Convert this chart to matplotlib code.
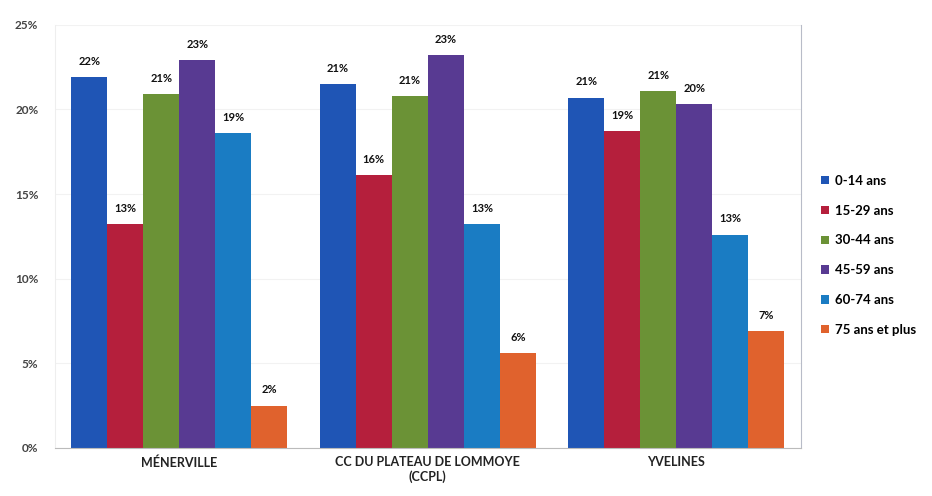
import numpy as np
import matplotlib.pyplot as plt

plt.rcParams['font.family'] = ['Lato', 'DejaVu Sans']

territoires = ['MÉNERVILLE', 'CC DU PLATEAU DE LOMMOYE\n(CCPL)', 'YVELINES']
tranches = ['0-14 ans', '15-29 ans', '30-44 ans', '45-59 ans', '60-74 ans', '75 ans et plus']
valeurs = [
    [21.9, 21.5, 20.7],   # 0-14
    [13.2, 16.1, 18.7],   # 15-29
    [20.9, 20.8, 21.1],   # 30-44
    [22.9, 23.2, 20.3],   # 45-59
    [18.6, 13.2, 12.6],   # 60-74
    [2.5, 5.6, 6.9],      # 75+
]
etiquettes = [
    ['22%', '21%', '21%'],
    ['13%', '16%', '19%'],
    ['21%', '21%', '21%'],
    ['23%', '23%', '20%'],
    ['19%', '13%', '13%'],
    ['2%', '6%', '7%'],
]
couleurs = ['#1f55b5', '#b51f3c', '#6b9236', '#583a92', '#1a7cc3', '#e0622d']

fig = plt.figure(figsize=(9.32, 4.96), dpi=100)
ax = fig.add_axes([0.059, 0.097, 0.8, 0.853])

x = np.arange(len(territoires))
w = 0.145
for i in range(len(tranches)):
    pos = x + (i - 2.5) * w
    ax.bar(pos, valeurs[i], width=w, color=couleurs[i], label=tranches[i])
    for xp, v, t in zip(pos, valeurs[i], etiquettes[i]):
        ax.text(xp, v + 0.6, t, ha='center', va='bottom', fontsize=8,
                fontweight='bold', color='#111111')

ax.set_ylim(0, 25)
ax.set_xlim(-0.5, 2.5)
ax.set_yticks([0, 5, 10, 15, 20, 25])
ax.set_yticklabels(['0%', '5%', '10%', '15%', '20%', '25%'])
ax.set_xticks(x)
ax.set_xticklabels(territoires, fontsize=9, fontweight='bold', color='#222222')
ax.tick_params(axis='y', length=0, labelsize=8.5, colors='#444444', pad=12)
ax.tick_params(axis='x', length=0, pad=6)
for lab in ax.get_yticklabels():
    lab.set_fontweight('bold')

ax.yaxis.grid(True, color='#f2f2f2', linewidth=0.8)
ax.set_axisbelow(True)
ax.spines['top'].set_visible(False)
ax.spines['left'].set_color('#eeeeee')
ax.spines['bottom'].set_color('#bbbbbb')
ax.spines['right'].set_color('#b8bcc8')

ax.legend(loc='center left', bbox_to_anchor=(1.012, 0.455), frameon=False,
          handlelength=0.6, handleheight=0.6, handletextpad=0.4,
          labelspacing=1.35, prop={'weight': 'bold', 'size': 9.5})

fig.savefig('out.png', dpi=100)
